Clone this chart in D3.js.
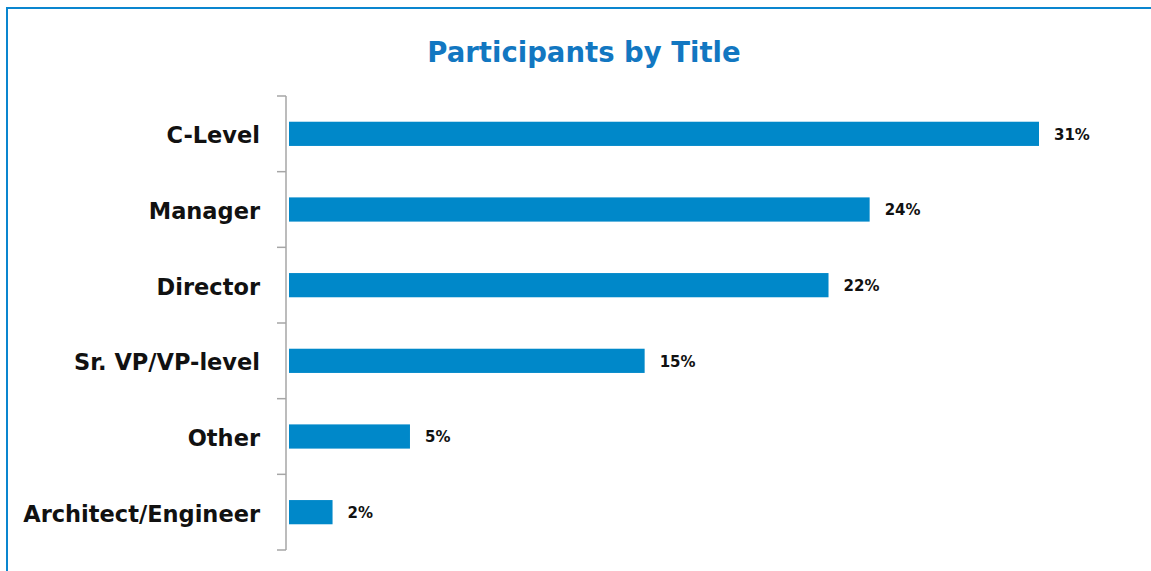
<!DOCTYPE html>
<html>
<head>
<meta charset="utf-8">
<script src="https://cdn.jsdelivr.net/npm/d3@7"></script>
<style>
  body { margin: 0; background: #fff; }
  svg { display: block; }
</style>
</head>
<body>
<script>
var width = 1151;
var height = 571;

// data
var titles = ['C-Level', 'Manager', 'Director', 'Sr. VP/VP-level', 'Other', 'Architect/Engineer'];
var shares = [31.0, 24.0, 22.3, 14.7, 5.0, 1.8];
var shareLabels = ['31%', '24%', '22%', '15%', '5%', '2%'];

var fontFamily = '"DejaVu Sans", Verdana, sans-serif';

var svg = d3.select('body').append('svg')
  .attr('width', width)
  .attr('height', height);

// blue frame, runs off the right and bottom edges
svg.append('rect')
  .attr('x', 7)
  .attr('y', 8)
  .attr('width', width + 20)
  .attr('height', height + 20)
  .attr('fill', 'none')
  .attr('stroke', '#0a86cf')
  .attr('stroke-width', 2);

svg.append('text')
  .attr('x', 584)
  .attr('y', 62)
  .attr('text-anchor', 'middle')
  .attr('font-family', fontFamily)
  .attr('font-weight', 'bold')
  .attr('font-size', 27.5)
  .attr('fill', '#1277c1')
  .text('Participants by Title');

var x = d3.scaleLinear()
  .domain([0, 31])
  .range([289, 1039]);

var y = d3.scaleBand()
  .domain(titles)
  .range([96, 550])
  .paddingInner(0.68)
  .paddingOuter(0.34);

// axis line with tick marks on the band edges
var axisX = 286;
var edges = titles.map(function (t) { return y(t) - y.step() * y.paddingInner() / 2; });
edges.push(550);

svg.append('line')
  .attr('x1', axisX).attr('x2', axisX)
  .attr('y1', 96).attr('y2', 550)
  .attr('stroke', '#a6a6a6')
  .attr('stroke-width', 1.5);

svg.selectAll('.tick')
  .data(edges)
  .enter().append('line')
  .attr('class', 'tick')
  .attr('x1', axisX - 9).attr('x2', axisX)
  .attr('y1', function (d) { return d; })
  .attr('y2', function (d) { return d; })
  .attr('stroke', '#a6a6a6')
  .attr('stroke-width', 1.5);

svg.selectAll('.bar')
  .data(titles)
  .enter().append('rect')
  .attr('class', 'bar')
  .attr('x', x(0))
  .attr('y', function (d) { return y(d); })
  .attr('width', function (d, i) { return x(shares[i]) - x(0); })
  .attr('height', y.bandwidth())
  .attr('fill', '#0088c9');

svg.selectAll('.cat')
  .data(titles)
  .enter().append('text')
  .attr('class', 'cat')
  .attr('x', 260)
  .attr('y', function (d) { return y(d) + y.bandwidth() / 2; })
  .attr('dy', '0.42em')
  .attr('text-anchor', 'end')
  .attr('font-family', fontFamily)
  .attr('font-weight', 'bold')
  .attr('font-size', 22.5)
  .attr('fill', '#111')
  .text(function (d) { return d; });

svg.selectAll('.val')
  .data(titles)
  .enter().append('text')
  .attr('class', 'val')
  .attr('x', function (d, i) { return x(shares[i]) + 15; })
  .attr('y', function (d) { return y(d) + y.bandwidth() / 2; })
  .attr('dy', '0.38em')
  .attr('font-family', fontFamily)
  .attr('font-weight', 'bold')
  .attr('font-size', 15)
  .attr('fill', '#111')
  .text(function (d, i) { return shareLabels[i]; });
</script>
</body>
</html>
